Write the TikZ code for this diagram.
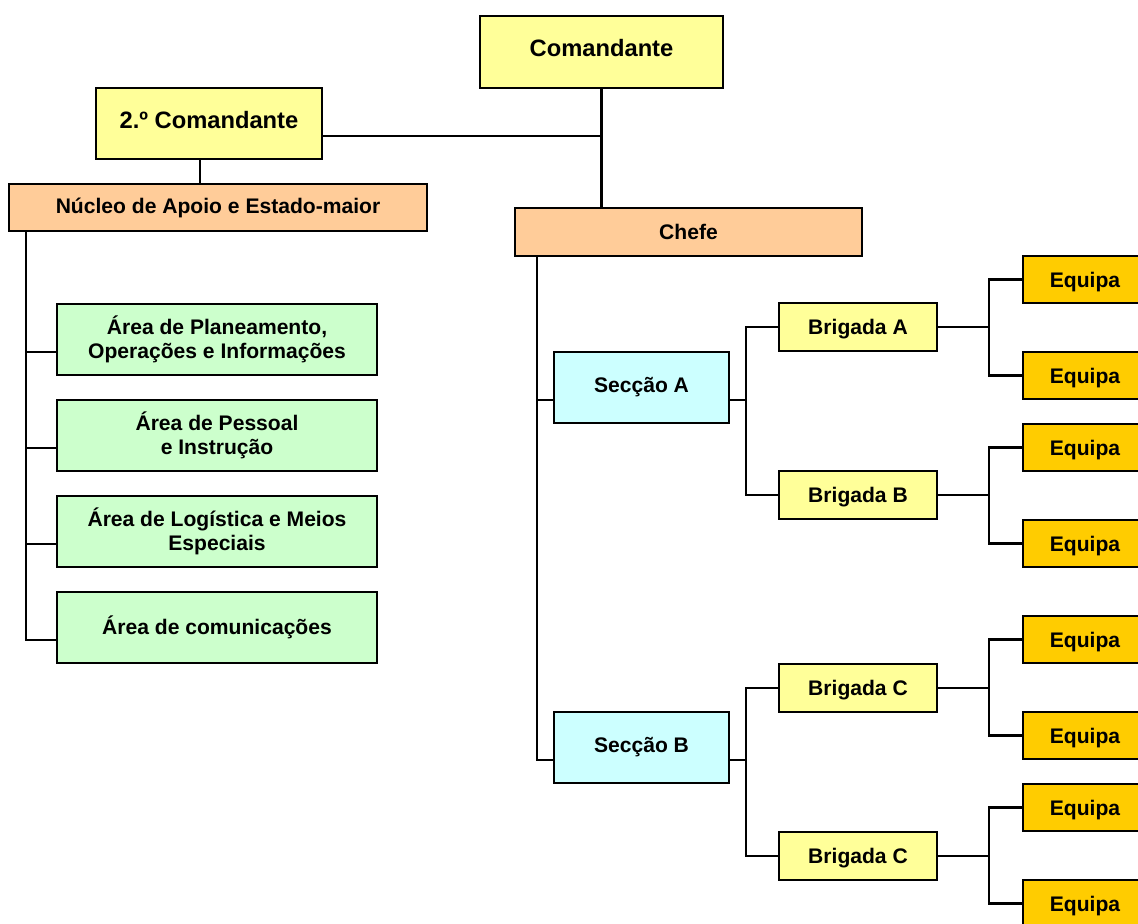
\documentclass[tikz,border=0pt]{standalone}
\usepackage{fontspec}
\setmainfont{Liberation Sans}
\usepackage{tikz}
\usetikzlibrary{calc}
\definecolor{yel}{HTML}{FFFF99}
\definecolor{ora}{HTML}{FFCC99}
\definecolor{grn}{HTML}{CCFFCC}
\definecolor{cya}{HTML}{CCFFFF}
\definecolor{gld}{HTML}{FFCC00}

\begin{document}
\begin{tikzpicture}[x=0.02cm,y=-0.02cm,line width=1.3pt,
    box/.style 2 args={draw,inner sep=0pt,align=center,
      minimum width=#1*0.02cm,minimum height=#2*0.02cm,
      font=\bfseries\fontsize{12}{13.6}\selectfont},
    big/.style={font=\bfseries\fontsize{13.5}{15}\selectfont,text depth=4.5pt},
    flat/.style={text depth=0pt}]
  \clip (0,0) rectangle (1138,923);

  \node[box={243}{72},fill=yel,big] (com)   at (601.5,52)  {Comandante};
  \node[box={226}{71},fill=yel,big] (cmd2)  at (209,123.5) {2.º Comandante};
  \node[box={418}{47},fill=ora]     (nuc)   at (218,207.5) {Núcleo de Apoio e Estado-maior};
  \node[box={347}{48},fill=ora]     (chefe) at (688.5,232) {Chefe};

  \node[box={320}{71},fill=grn] (ap1) at (217,339.5) {Área de Planeamento,\\Operações e Informações};
  \node[box={320}{71},fill=grn] (ap2) at (217,435.5) {Área de Pessoal\\e Instrução};
  \node[box={320}{71},fill=grn] (ap3) at (217,531.5) {Área de Logística e Meios\\Especiais};
  \node[box={320}{71},fill=grn] (ap4) at (217,627.5) {Área de comunicações};

  \node[box={175}{71},fill=cya] (secA) at (641.5,387.5) {Secção A};
  \node[box={175}{71},fill=cya] (secB) at (641.5,747.5) {Secção B};

  \node[box={158}{48},fill=yel,flat] (brA)  at (858,327) {Brigada A};
  \node[box={158}{48},fill=yel,flat] (brB)  at (858,495) {Brigada B};
  \node[box={158}{48},fill=yel,flat] (brC1) at (858,688) {Brigada C};
  \node[box={158}{48},fill=yel,flat] (brC2) at (858,856) {Brigada C};

  \node[box={124}{47},fill=gld,flat] (eq1) at (1085,279.5) {Equipa};
  \node[box={124}{47},fill=gld,flat] (eq2) at (1085,375.5) {Equipa};
  \node[box={124}{47},fill=gld,flat] (eq3) at (1085,447.5) {Equipa};
  \node[box={124}{47},fill=gld,flat] (eq4) at (1085,543.5) {Equipa};
  \node[box={124}{47},fill=gld,flat] (eq5) at (1085,639.5) {Equipa};
  \node[box={124}{47},fill=gld,flat] (eq6) at (1085,735.5) {Equipa};
  \node[box={124}{47},fill=gld,flat] (eq7) at (1085,807.5) {Equipa};
  \node[box={124}{47},fill=gld,flat] (eq8) at (1085,903.5) {Equipa};

  % top of the chart
  \coordinate (c2e) at ($(cmd2.south east)!.33!(cmd2.north east)$);
  \coordinate (c2s) at ($(cmd2.south west)!.46!(cmd2.south east)$);
  \draw (com.south) -- (com.south |- chefe.north);
  \draw (c2e) -- (c2e -| com.south);
  \draw (c2s) -- (c2s |- nuc.north);

  % support areas
  \coordinate (nl) at (26,231);
  \draw (nl) |- ($(ap1.south west)!.33!(ap1.north west)$);
  \draw (nl) |- ($(ap2.south west)!.33!(ap2.north west)$);
  \draw (nl) |- ($(ap3.south west)!.33!(ap3.north west)$);
  \draw (nl) |- ($(ap4.south west)!.33!(ap4.north west)$);

  % sections
  \coordinate (cl) at (537,256);
  \draw (cl) |- ($(secA.south west)!.33!(secA.north west)$);
  \draw (cl) |- ($(secB.south west)!.33!(secB.north west)$);

  \draw ($(secA.south east)!.33!(secA.north east)$) -- ++(16,0) |- (brA.west);
  \draw ($(secA.south east)!.33!(secA.north east)$) ++(16,0) |- (brB.west);
  \draw ($(secB.south east)!.33!(secB.north east)$) -- ++(16,0) |- (brC1.west);
  \draw ($(secB.south east)!.33!(secB.north east)$) ++(16,0) |- (brC2.west);

  % teams
  \draw (brA.east) -- ++(51,0) |- (eq1.west);
  \draw (brA.east) ++(51,0) |- (eq2.west);
  \draw (brB.east) -- ++(51,0) |- (eq3.west);
  \draw (brB.east) ++(51,0) |- (eq4.west);
  \draw (brC1.east) -- ++(51,0) |- (eq5.west);
  \draw (brC1.east) ++(51,0) |- (eq6.west);
  \draw (brC2.east) -- ++(51,0) |- (eq7.west);
  \draw (brC2.east) ++(51,0) |- (eq8.west);
\end{tikzpicture}
\end{document}
